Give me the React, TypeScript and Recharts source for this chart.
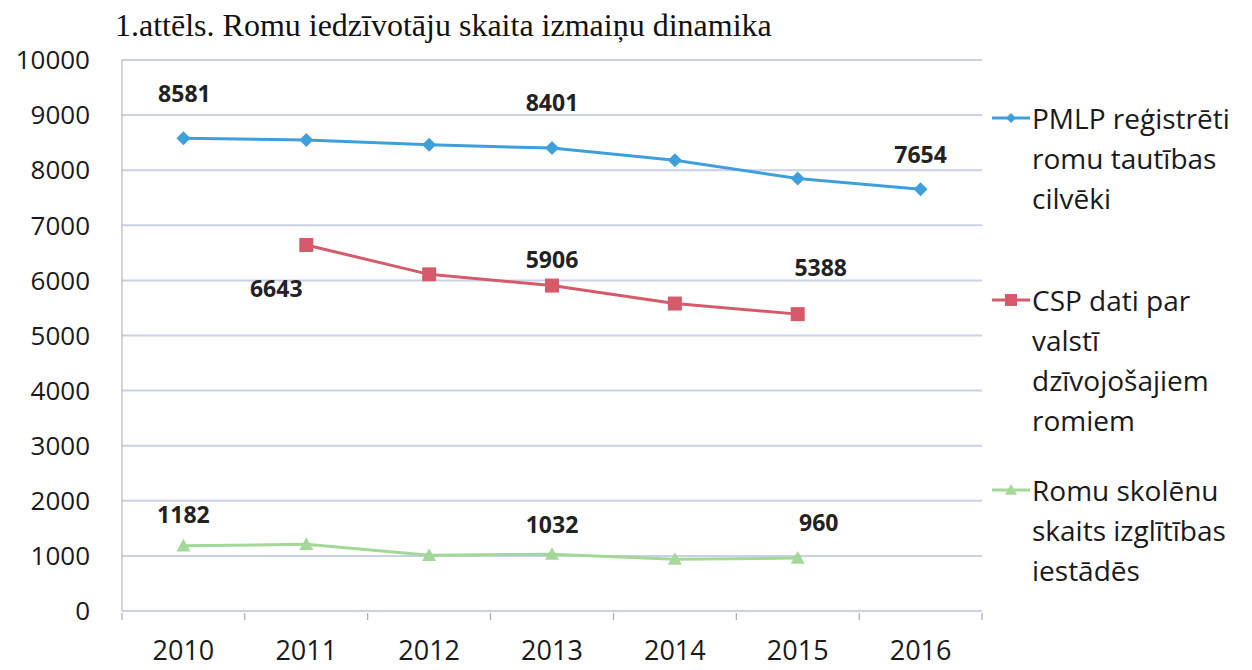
import React from 'react';
import { LineChart, Line, XAxis, YAxis, CartesianGrid } from 'recharts';

// data
const years = ['2010', '2011', '2012', '2013', '2014', '2015', '2016'];
const pmlpValues = [8581, 8550, 8460, 8401, 8180, 7850, 7654];
const cspValues = [null, 6643, 6110, 5906, 5580, 5388, null];
const studentValues = [1182, 1210, 1010, 1032, 940, 960, null];
const yTicks = [0, 1000, 2000, 3000, 4000, 5000, 6000, 7000, 8000, 9000, 10000];

const seriesNames = {
    pmlp: ['PMLP reģistrēti', 'romu tautības', 'cilvēki'],
    csp: ['CSP dati par', 'valstī', 'dzīvojošajiem', 'romiem'],
    students: ['Romu skolēnu', 'skaits izglītības', 'iestādēs'],
};

const data = years.map((year, i) => ({
    year,
    pmlp: pmlpValues[i],
    csp: cspValues[i],
    students: studentValues[i],
}));

const BLUE = '#3f9fdb';
const RED = '#d55b6b';
const GREEN = '#a3d898';
const GRID = '#c9d1e6';
const FONT = '"Open Sans", sans-serif';

const CHART_W = 1000;
const CHART_H = 670;
const PLOT_LEFT = 122;
const PLOT_RIGHT = 982;
const PLOT_TOP = 60;
const PLOT_BOTTOM = 611;
const STEP = (PLOT_RIGHT - PLOT_LEFT) / years.length;

// which points carry a value label, and where it sits relative to the point
const labelSpots: Record<string, Record<number, [number, number]>> = {
    pmlp: { 0: [1, -45], 3: [0, -46], 6: [0, -35] },
    csp: { 1: [-30, 43], 3: [0, -27], 5: [23, -47] },
    students: { 0: [0, -32], 3: [0, -30], 5: [21, -36] },
};

const diamond = (cx: number, cy: number, r: number, fill: string) => (
    <path d={`M${cx},${cy - r}L${cx + r},${cy}L${cx},${cy + r}L${cx - r},${cy}Z`} fill={fill} />
);
const square = (cx: number, cy: number, r: number, fill: string) => (
    <rect x={cx - r} y={cy - r} width={r * 2} height={r * 2} fill={fill} />
);
const triangle = (cx: number, cy: number, r: number, fill: string) => (
    <path d={`M${cx},${cy - r}L${cx + r},${cy + r * 0.8}L${cx - r},${cy + r * 0.8}Z`} fill={fill} />
);

const makeDot = (shape: typeof diamond, r: number, fill: string) => (p: any) => {
    if (p.cx == null || p.cy == null || p.value == null) return <g key={p.key ?? p.index} />;
    return <g key={p.key ?? p.index}>{shape(p.cx, p.cy, r, fill)}</g>;
};

const makeLabel = (series: string) => (p: any) => {
    const spot = labelSpots[series][p.index];
    if (!spot || p.value == null) return <g key={`${series}-l-${p.index}`} />;
    return (
        <text
            key={`${series}-l-${p.index}`}
            x={p.x + spot[0]}
            y={p.y + spot[1]}
            textAnchor="middle"
            dominantBaseline="central"
            fontFamily={FONT}
            fontWeight={700}
            fontSize={23}
            fill="#222"
        >
            {p.value}
        </text>
    );
};

const YearTick = (p: any) => {
    const { x, y, payload, index } = p;
    return (
        <g>
            <line x1={x - STEP / 2} x2={x - STEP / 2} y1={y} y2={y + 7} stroke="#999" />
            {index === years.length - 1 && (
                <line x1={x + STEP / 2} x2={x + STEP / 2} y1={y} y2={y + 7} stroke="#999" />
            )}
            <text x={x} y={y + 47} textAnchor="middle" fontFamily={FONT} fontSize={27} fill="#1a1a1a">
                {payload.value}
            </text>
        </g>
    );
};

const LegendEntry = ({ top, color, marker, lines }: { top: number; color: string; marker: string; lines: string[] }) => (
    <div style={{ position: 'absolute', left: 990, top, display: 'flex', alignItems: 'flex-start' }}>
        <svg width={42} height={40} style={{ flex: 'none' }}>
            <line x1={2} x2={40} y1={20} y2={20} stroke={color} strokeWidth={3} />
            {marker === 'diamond' && diamond(21, 20, 5, color)}
            {marker === 'square' && square(21, 20, 6, color)}
            {marker === 'triangle' && triangle(21, 20, 6, color)}
        </svg>
        <div style={{ fontFamily: FONT, fontSize: 28, lineHeight: '40px', color: '#1a1a1a', whiteSpace: 'nowrap' }}>
            {lines.map((l) => (
                <div key={l}>{l}</div>
            ))}
        </div>
    </div>
);

export default function App() {
    return (
        <div style={{ position: 'fixed', left: 0, top: 0, width: 1252, height: 670, background: '#fff' }}>
            <div
                style={{
                    position: 'absolute',
                    left: 115,
                    top: 7,
                    fontFamily: '"Liberation Serif", serif',
                    fontSize: 32,
                    color: '#111',
                    whiteSpace: 'nowrap',
                }}
            >
                1.attēls. Romu iedzīvotāju skaita izmaiņu dinamika
            </div>
            <LineChart
                width={CHART_W}
                height={CHART_H}
                data={data}
                margin={{ top: PLOT_TOP, right: CHART_W - PLOT_RIGHT, bottom: 0, left: 0 }}
            >
                <CartesianGrid vertical={false} stroke={GRID} strokeWidth={2} />
                <XAxis
                    dataKey="year"
                    padding={{ left: STEP / 2, right: STEP / 2 }}
                    axisLine={{ stroke: GRID, strokeWidth: 2 }}
                    tickLine={false}
                    tickSize={0}
                    tick={<YearTick />}
                    interval={0}
                    height={CHART_H - PLOT_BOTTOM}
                />
                <YAxis
                    width={PLOT_LEFT}
                    domain={[0, 10000]}
                    ticks={yTicks}
                    interval={0}
                    axisLine={{ stroke: '#aaa' }}
                    tickLine={false}
                    tickSize={0}
                    tickMargin={32}
                    tick={{ fontFamily: FONT, fontSize: 26, fill: '#1a1a1a' }}
                />
                <Line
                    dataKey="pmlp"
                    stroke={BLUE}
                    strokeWidth={3}
                    dot={makeDot(diamond, 7, BLUE)}
                    label={makeLabel('pmlp')}
                    isAnimationActive={false}
                />
                <Line
                    dataKey="csp"
                    stroke={RED}
                    strokeWidth={3}
                    dot={makeDot(square, 7, RED)}
                    label={makeLabel('csp')}
                    isAnimationActive={false}
                />
                <Line
                    dataKey="students"
                    stroke={GREEN}
                    strokeWidth={3}
                    dot={makeDot(triangle, 7, GREEN)}
                    label={makeLabel('students')}
                    isAnimationActive={false}
                />
            </LineChart>
            <LegendEntry top={98} color={BLUE} marker="diamond" lines={seriesNames.pmlp} />
            <LegendEntry top={280} color={RED} marker="square" lines={seriesNames.csp} />
            <LegendEntry top={470} color={GREEN} marker="triangle" lines={seriesNames.students} />
        </div>
    );
}
